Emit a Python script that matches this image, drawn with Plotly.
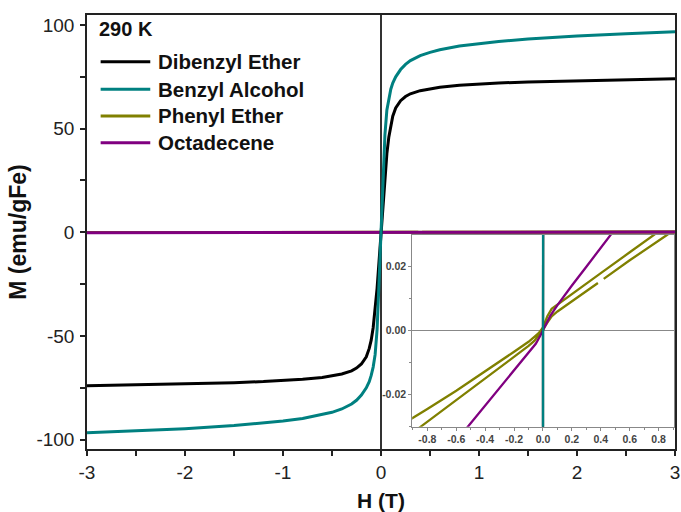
import plotly.graph_objects as go

# Applied field (T) for the two ferrimagnetic samples
H_main = [-3, -2.5, -2, -1.5, -1.2, -1, -0.8, -0.6, -0.5, -0.4, -0.3, -0.25, -0.2,
          -0.15, -0.12, -0.1, -0.08, -0.06, -0.04, -0.02, 0,
          0.02, 0.04, 0.06, 0.08, 0.1, 0.12, 0.15, 0.2, 0.25, 0.3, 0.4, 0.5,
          0.6, 0.8, 1, 1.2, 1.5, 2, 2.5, 3]

# Magnetisation (emu/gFe)
M_dibenzyl = [-74.0, -73.6, -73.1, -72.5, -72.0, -71.5, -70.9, -70.0, -69.3, -68.3, -66.8,
              -65.5, -63.5, -60.0, -56.0, -52.0, -46.0, -38.0, -27.0, -14.0, 0.0,
              14.0, 27.0, 38.0, 46.0, 52.0, 56.0, 60.0, 63.5, 65.5, 66.8, 68.3, 69.3,
              70.0, 70.9, 71.5, 72.0, 72.5, 73.1, 73.6, 74.0]

M_benzyl = [-96.7, -95.8, -94.7, -93.2, -92.0, -91.0, -89.8, -88.0, -86.8, -85.2, -82.8,
            -81.0, -78.5, -75.0, -72.0, -69.0, -65.0, -59.0, -47.0, -24.0, 0.0,
            24.0, 47.0, 59.0, 65.0, 69.0, 72.0, 75.0, 78.5, 81.0, 82.8, 85.2, 86.8,
            88.0, 89.8, 91.0, 92.0, 93.2, 94.7, 95.8, 96.7]

# Octadecene: weak, almost linear response
H_octa = [-3, -2, -1, -0.9, -0.7, -0.5, -0.4, -0.3, -0.2, -0.15, -0.1, -0.05, -0.02, 0,
          0.02, 0.05, 0.1, 0.15, 0.2, 0.3, 0.4, 0.5, 0.7, 0.9, 1, 2, 3]
M_octa = [-0.170, -0.113, -0.057, -0.051, -0.0400, -0.0289, -0.0233, -0.0178, -0.0124,
          -0.0097, -0.0070, -0.0041, -0.0017, 0.0,
          0.0019, 0.0046, 0.0080, 0.0111, 0.0141, 0.0200, 0.0259, 0.0318, 0.0436,
          0.0554, 0.061, 0.120, 0.180]

# Phenyl ether: descending then ascending field sweep
H_phenyl = [3, 2, 1, 0.9, 0.77, 0.6, 0.4, 0.2, 0.1, 0.06, 0.03, 0, -0.03, -0.06, -0.1,
            -0.2, -0.4, -0.6, -0.8, -0.9, -1, -2, -3,
            -3, -2, -1, -0.9, -0.845, -0.6, -0.4, -0.2, -0.1, -0.06, -0.03, 0, 0.03,
            0.06, 0.1, 0.2, 0.38, None, 0.42, 0.6, 0.86, 0.9, 1, 2, 3]
M_phenyl = [0.100, 0.067, 0.0375, 0.0343, 0.0300, 0.0245, 0.0180, 0.0115, 0.0083, 0.0068,
            0.0045, 0.0010, -0.0008, -0.0020, -0.0035, -0.0066, -0.0127, -0.0188,
            -0.0245, -0.0273, -0.0300, -0.063, -0.097,
            -0.100, -0.067, -0.0355, -0.0320, -0.0300, -0.0218, -0.0150, -0.0083,
            -0.0048, -0.0032, -0.0015, 0.0003, 0.0025, 0.0045, 0.0060, 0.0092, 0.0149,
            None, 0.0162, 0.0220, 0.0300, 0.0313, 0.0345, 0.066, 0.098]

names = ["Dibenzyl Ether", "Benzyl Alcohol", "Phenyl Ether", "Octadecene"]
colors = ["#000000", "#008080", "#808000", "#800080"]
temperature_label = "290 K"

# tick positions and their printed labels (plain hyphen minus)
x_ticks = [-3, -2, -1, 0, 1, 2, 3]
x_ticklabels = ["-3", "-2", "-1", "0", "1", "2", "3"]
y_ticks = [-100, -50, 0, 50, 100]
y_ticklabels = ["-100", "-50", "0", "50", "100"]
inset_x_ticks = [-0.8, -0.6, -0.4, -0.2, 0.0, 0.2, 0.4, 0.6, 0.8]
inset_x_ticklabels = ["-0.8", "-0.6", "-0.4", "-0.2", "0.0", "0.2", "0.4", "0.6", "0.8"]
inset_y_ticks = [-0.02, 0.0, 0.02]
inset_y_ticklabels = ["-0.02", "0.00", "0.02"]

FONT = "Liberation Sans, Arial, sans-serif"

series = {
    "Dibenzyl Ether": (H_main, M_dibenzyl),
    "Benzyl Alcohol": (H_main, M_benzyl),
    "Phenyl Ether": (H_phenyl, M_phenyl),
    "Octadecene": (H_octa, M_octa),
}
color_of = dict(zip(names, colors))
draw_order = ["Phenyl Ether", "Octadecene", "Dibenzyl Ether", "Benzyl Alcohol"]

fig = go.Figure()

# main panel
for n in draw_order:
    h, m = series[n]
    fig.add_trace(go.Scatter(x=h, y=m, mode="lines", name=n, showlegend=False,
                             line=dict(color=color_of[n], width=3),
                             xaxis="x", yaxis="y"))

# inset panel (low-field zoom)
for n in draw_order:
    h, m = series[n]
    fig.add_trace(go.Scatter(x=h, y=m, mode="lines", name=n, showlegend=False,
                             line=dict(color=color_of[n], width=2.3),
                             xaxis="x2", yaxis="y2"))

axis_common = dict(showline=True, linecolor="#222", linewidth=1.5, mirror=True,
                   ticks="outside", ticklen=5, tickwidth=1.5, tickcolor="#222",
                   showgrid=False, automargin=False, tickmode="array",
                   tickfont=dict(family=FONT, size=19, color="#222"))

inset_common = dict(showgrid=False, automargin=False, tickmode="array",
                    showline=True, linecolor="#888", linewidth=1, mirror=True,
                    ticks="outside", ticklen=3, tickcolor="#888",
                    tickfont=dict(family=FONT, size=10.5, color="#444", weight="bold"))

fig.update_layout(
    width=681, height=512,
    margin=dict(l=87, r=6, t=15, b=63),
    paper_bgcolor="white", plot_bgcolor="white",
    xaxis=dict(range=[-3, 3], tickvals=x_ticks, ticktext=x_ticklabels,
               zeroline=True, zerolinecolor="#333", zerolinewidth=1.5,
               minor=dict(dtick=0.5, ticks="outside", ticklen=5, tickcolor="#222", tickwidth=1.5),
               title=dict(text="H (T)", standoff=12,
                          font=dict(family=FONT, size=21, color="#111", weight="bold")),
               **axis_common),
    yaxis=dict(range=[-104.5, 104.8], tickvals=y_ticks, ticktext=y_ticklabels,
               zeroline=False, ticklabelstandoff=2,
               minor=dict(dtick=25, ticks="outside", ticklen=5, tickcolor="#222", tickwidth=1.5),
               title=dict(text="M (emu/gFe)", standoff=3,
                          font=dict(family=FONT, size=23, color="#111", weight="bold")),
               **axis_common),
    xaxis2=dict(domain=[0.553, 0.998], anchor="y2", range=[-0.905, 0.905],
                tickvals=inset_x_ticks, ticktext=inset_x_ticklabels,
                minor=dict(dtick=0.1, ticks="outside", ticklen=2, tickcolor="#888"),
                zeroline=False, **inset_common),
    yaxis2=dict(domain=[0.051, 0.493], anchor="x2", range=[-0.0301, 0.0299],
                tickvals=inset_y_ticks, ticktext=inset_y_ticklabels,
                minor=dict(dtick=0.01, ticks="outside", ticklen=2, tickcolor="#888"),
                zeroline=True, zerolinecolor="#888", zerolinewidth=1, **inset_common),
)

# temperature tag
fig.add_annotation(x=0.0164, y=0.967, xref="paper", yref="paper", xanchor="left",
                   yanchor="middle", showarrow=False, text=temperature_label,
                   font=dict(family=FONT, size=20, color="#111", weight="bold"))

# legend: swatch + label per sample
row_y = [0.8924, 0.8288, 0.7673, 0.7058]
for n, yy in zip(names, row_y):
    fig.add_shape(type="line", xref="paper", yref="paper", x0=0.0232, x1=0.1076,
                  y0=yy, y1=yy, line=dict(color=color_of[n], width=3))
    fig.add_annotation(x=0.1168, y=yy, xref="paper", yref="paper", xanchor="left",
                       yanchor="middle", showarrow=False, text=n,
                       font=dict(family=FONT, size=20.5, color="#111", weight="bold"))

fig.write_html("out.html")
